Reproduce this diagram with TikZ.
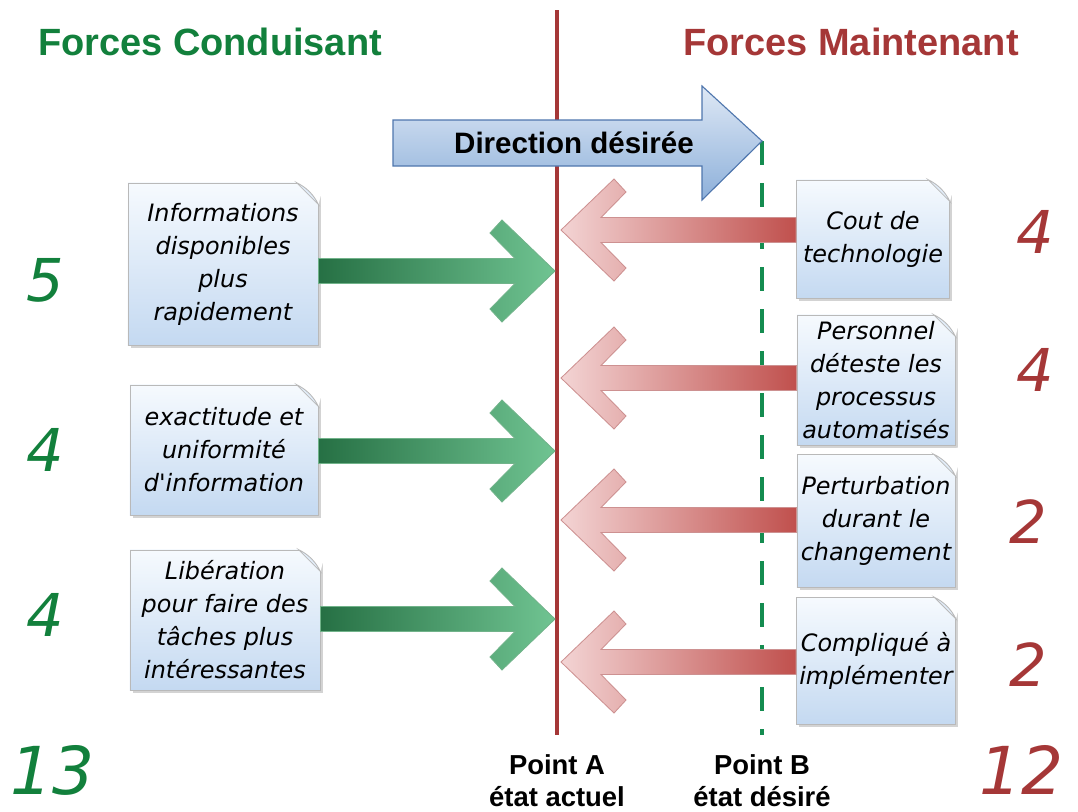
\documentclass[tikz,border=0pt]{standalone}
\usepackage{fontspec}
\setmainfont{Liberation Sans}
\newfontfamily\hand{DejaVu Sans}
\usepackage{xcolor}
\usepackage{tikz}
\usetikzlibrary{calc,shadows}

\definecolor{pousse}{RGB}{18,128,60}
\definecolor{retient}{RGB}{165,55,55}
\definecolor{tiret}{RGB}{20,140,80}
\definecolor{poussefonce}{RGB}{38,112,68}
\definecolor{poussclair}{RGB}{112,196,146}
\definecolor{retientfonce}{RGB}{192,80,77}
\definecolor{retientclair}{RGB}{243,212,212}
\definecolor{notehaut}{RGB}{246,250,254}
\definecolor{notebas}{RGB}{196,217,241}
\definecolor{bleuhaut}{RGB}{222,232,245}
\definecolor{bleubas}{RGB}{141,176,218}
\definecolor{bleubord}{RGB}{79,118,173}

\newdimen\pxu \pxu=0.7113pt

\tikzset{
  titre/.style={font=\bfseries\fontsize{27}{31}\selectfont},
  chiffre/.style={font=\hand\itshape\fontsize{42}{46}\selectfont},
  total/.style={font=\hand\itshape\fontsize{47}{51}\selectfont, inner sep=0pt},
  note/.style={draw=gray!55, line width=0.6pt, top color=notehaut, bottom color=notebas,
    drop shadow={opacity=0.35, shadow xshift=0.07cm, shadow yshift=-0.07cm},
    align=center, inner sep=2pt, font=\hand\itshape\fontsize{17}{23.5}\selectfont},
  pousse fleche/.style={draw=pousse!60!white, line width=0.6pt,
    left color=poussefonce, right color=poussclair},
  retient fleche/.style={draw=retient!55!white, line width=0.6pt,
    left color=retientclair, right color=retientfonce},
  point/.style={font=\bfseries\fontsize{19.5}{23}\selectfont, align=center}
}

% fleche en chevron: style, depart, pointe, sens (1 ou -1)
\newcommand\forcearrow[4]{%
  \path[#1] let \p1=(#2), \p2=(#3) in
    (\p2) -- ({\x2-(#4)*53*\pxu},{\y2+51*\pxu}) -- ({\x2-(#4)*65*\pxu},{\y2+38*\pxu})
    -- ({\x2-(#4)*40*\pxu},{\y2+12.5*\pxu}) -- ({\x1},{\y2+12.5*\pxu})
    -- ({\x1},{\y2-12.5*\pxu}) -- ({\x2-(#4)*40*\pxu},{\y2-12.5*\pxu})
    -- ({\x2-(#4)*65*\pxu},{\y2-38*\pxu}) -- ({\x2-(#4)*53*\pxu},{\y2-51*\pxu}) -- cycle;}

% coin corne de la note
\newcommand\curl[1]{%
  \fill[white] ([xshift=-0.55cm]#1.north east) -- ([xshift=0.2cm,yshift=0.2cm]#1.north east)
    -- ([yshift=-0.55cm]#1.north east) -- cycle;
  \filldraw[draw=gray!55, line width=0.6pt, fill=notehaut!60!notebas]
    ([xshift=-0.55cm]#1.north east) .. controls ([xshift=-0.3cm,yshift=-0.12cm]#1.north east)
    and ([xshift=-0.12cm,yshift=-0.3cm]#1.north east) .. ([yshift=-0.55cm]#1.north east) -- cycle;}

\begin{document}
\begin{tikzpicture}[x=0.025cm, y=-0.025cm]
  \useasboundingbox (0,0) rectangle (1078,811);

  \node[titre, text=pousse] (tg) at (210,42) {Forces Conduisant};
  \node[titre, text=retient] (td) at (851,42) {Forces Maintenant};

  % lignes A et B
  \coordinate (A0) at (557,10);
  \coordinate (A1) at (557,735);
  \coordinate (B0) at (762,141);
  \coordinate (B1) at (762,735);
  \draw[tiret, line width=2.8pt, dash pattern=on 0.6cm off 0.45cm] (B0) -- (B1);
  \draw[retient, line width=2.2pt] (A0) -- (A1);

  % direction desiree
  \draw[bleubord, line width=0.8pt, top color=bleuhaut, bottom color=bleubas]
    (393,120) -- (702,120) -- (702,86) -- (B0) -- (702,200) -- (702,166) -- (393,166) -- cycle;
  \node[font=\bfseries\fontsize{21}{25}\selectfont] (dir) at (574,143) {Direction désirée};

  % notes
  \node[note, minimum width=4.75cm, minimum height=4.05cm] (L1) at (223,264)
    {Informations\\disponibles\\plus\\rapidement};
  \node[note, minimum width=4.7cm, minimum height=3.25cm] (L2) at (224,450)
    {exactitude et\\uniformité\\d'information};
  \node[note, minimum width=4.75cm, minimum height=3.5cm] (L3) at (225,620)
    {Libération\\pour faire des\\tâches plus\\intéressantes};
  \node[note, minimum width=3.825cm, minimum height=2.95cm] (R1) at (873,239)
    {Cout de\\technologie};
  \node[note, minimum width=3.95cm, minimum height=3.25cm] (R2) at (876,380)
    {Personnel\\déteste les\\processus\\automatisés};
  \node[note, minimum width=3.95cm, minimum height=3.325cm] (R3) at (876,521)
    {Perturbation\\durant le\\changement};
  \node[note, minimum width=3.95cm, minimum height=3.175cm] (R4) at (876,661)
    {Compliqué à\\implémenter};
  \foreach \n in {L1,L2,L3,R1,R2,R3,R4} {\curl{\n}}

  % forces
  \foreach \i/\y in {1/271,2/451,3/619} {
    \coordinate (g\i) at (555,\y);
    \forcearrow{pousse fleche}{L\i.east}{g\i}{1}
  }
  \foreach \i/\y in {1/230,2/378,3/520,4/662} {
    \coordinate (r\i) at (561,\y);
    \forcearrow{retient fleche}{R\i.west}{r\i}{-1}
  }

  % scores
  \node[chiffre, text=pousse] (nL1) at (45,280) {5};
  \node[chiffre, text=pousse] (nL2) at (45,450) {4};
  \node[chiffre, text=pousse] (nL3) at (45,615) {4};
  \node[total, text=pousse] (sL) at (53,770) {13};
  \node[chiffre, text=retient] (nR1) at (1035,232) {4};
  \node[chiffre, text=retient] (nR2) at (1035,370) {4};
  \node[chiffre, text=retient] (nR3) at (1028,522) {2};
  \node[chiffre, text=retient] (nR4) at (1028,665) {2};
  \node[total, text=retient] (sR) at (1022,770) {12};

  \node[point] (pA) at (557,781) {Point A\\état actuel};
  \node[point] (pB) at (762,781) {Point B\\état désiré};
\end{tikzpicture}
\end{document}
